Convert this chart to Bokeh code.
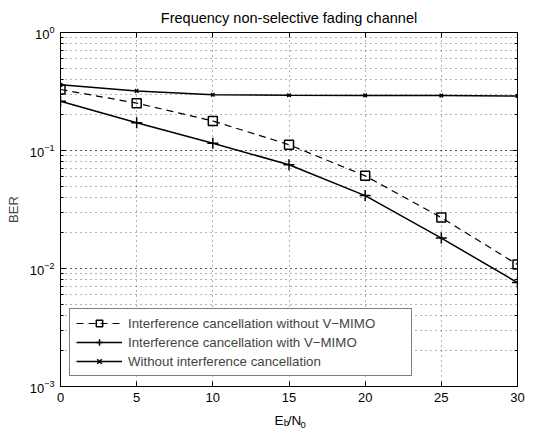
from bokeh.plotting import figure
from bokeh.layouts import column
from bokeh.models import (LogAxis, LinearAxis, Label, Legend, LegendItem, FixedTicker,
                          CustomJSTickFormatter, Range1d, LogTicker)
from bokeh.embed import file_html
from bokeh.resources import INLINE

# ---- data ----
snr = [0, 5, 10, 15, 20, 25, 30]
x_ticks = [0, 5, 10, 15, 20, 25, 30]
ber_ic_without_vmimo = [0.329, 0.252, 0.178, 0.112, 0.061, 0.027, 0.0108]
ber_ic_with_vmimo = [0.261, 0.172, 0.115, 0.0758, 0.0415, 0.0181, 0.0076]
ber_without_ic = [0.36, 0.32, 0.297, 0.294, 0.293, 0.292, 0.29]
labels = ["Interference cancellation without V\u2212MIMO",
          "Interference cancellation with V\u2212MIMO",
          "Without interference cancellation"]
title_text = "Frequency non-selective fading channel"
x_label_parts = ["E", "b", "/N", "0"]

FONT = "Liberation Sans"
MAIN_H = 407
TOTAL_H = 428
FRAME_L, FRAME_R = 60, 517

p = figure(width=540, height=MAIN_H, x_range=Range1d(0, 30), y_range=Range1d(1e-3, 1),
           y_axis_type="log", output_backend="svg", toolbar_location=None,
           min_border_left=FRAME_L, min_border_right=540 - FRAME_R, min_border_top=30,
           min_border_bottom=MAIN_H - 386)

p.title.text = title_text
p.title.align = "center"
p.title.offset = 10
p.title.text_font = FONT
p.title.text_font_size = "14.5px"
p.title.text_font_style = "normal"
p.title.text_color = "black"
p.title.standoff = 14

p.background_fill_color = "white"
p.border_fill_color = "white"
p.outline_line_color = "black"
p.outline_line_width = 1

# axes
p.xaxis.ticker = FixedTicker(ticks=x_ticks)
for ax in [p.xaxis[0], p.yaxis[0]]:
    ax.axis_line_color = "black"
    ax.major_tick_in = 5
    ax.major_tick_out = 0
    ax.minor_tick_in = 3
    ax.minor_tick_out = 0
    ax.major_tick_line_color = "black"
    ax.minor_tick_line_color = "black"
    ax.major_label_text_font = FONT
    ax.major_label_text_font_size = "13px"
    ax.major_label_text_color = "black"
p.xaxis.minor_tick_line_color = None
p.xaxis.major_label_standoff = 6
p.yaxis.major_label_standoff = 6
p.yaxis.axis_label = "BER"
p.yaxis.axis_label_text_font = FONT
p.yaxis.axis_label_text_font_size = "13px"
p.yaxis.axis_label_text_font_style = "normal"
p.yaxis.axis_label_standoff = 6

empty = CustomJSTickFormatter(code="return ''")
right = LogAxis(ticker=LogTicker(), formatter=empty, major_tick_in=5, major_tick_out=0,
                minor_tick_in=3, minor_tick_out=0, major_label_standoff=0)
top = LinearAxis(ticker=FixedTicker(ticks=x_ticks), formatter=empty, major_tick_in=5,
                 major_tick_out=0, minor_tick_line_color=None, major_label_standoff=0)
p.add_layout(right, "right")
p.add_layout(top, "above")

# grid
for g in [p.xgrid[0], p.ygrid[0]]:
    g.grid_line_color = "black"
    g.grid_line_dash = "1 4"
    g.grid_line_alpha = 0.6
p.xgrid.ticker = FixedTicker(ticks=x_ticks)
p.ygrid.minor_grid_line_color = "black"
p.ygrid.minor_grid_line_dash = "1 4"
p.ygrid.minor_grid_line_alpha = 0.6

# series
r1 = p.line(snr, ber_ic_without_vmimo, line_color="black", line_width=1.2, line_dash="7 5")
s1 = p.scatter(snr, ber_ic_without_vmimo, marker="square", size=9, fill_color=None,
               line_color="black", line_width=1.5)
r2 = p.line(snr, ber_ic_with_vmimo, line_color="black", line_width=1.5)
s2 = p.scatter(snr, ber_ic_with_vmimo, marker="cross", size=11, line_color="black", line_width=1.5)
r3 = p.line(snr, ber_without_ic, line_color="black", line_width=1.5)
s3 = p.scatter(snr, ber_without_ic, marker="x", size=5, line_color="black", line_width=1.5)

legend = Legend(items=[LegendItem(label=labels[0] + "\u00a0" * 8, renderers=[r1, s1]),
                       LegendItem(label=labels[1], renderers=[r2, s2]),
                       LegendItem(label=labels[2], renderers=[r3, s3])],
                location=(9, 10), border_line_color="black", border_line_width=1,
                background_fill_color="white", background_fill_alpha=1,
                label_text_font=FONT, label_text_font_size="13.3px",
                glyph_width=46, glyph_height=16, label_height=16, spacing=3,
                padding=6, margin=0, label_standoff=6)
p.add_layout(legend, "center")

# strip below the chart carrying the x-axis label E_b/N_0 (with subscripts);
# its frame is aligned with the chart's frame, so its x range spans the frame's pixels
lab_h = TOTAL_H - MAIN_H
q = figure(width=540, height=lab_h, x_range=Range1d(FRAME_L, FRAME_R), y_range=Range1d(0, lab_h),
           output_backend="svg", toolbar_location=None, min_border=0,
           min_border_left=FRAME_L, min_border_right=540 - FRAME_R,
           min_border_top=0, min_border_bottom=0)
q.axis.visible = False
q.grid.visible = False
q.outline_line_color = None
q.background_fill_color = "white"
q.border_fill_color = "white"
xl = dict(text_baseline="alphabetic", text_color="black", text_font=FONT)
q.add_layout(Label(x=274, y=TOTAL_H - 419.5, text=x_label_parts[0], text_font_size="13.5px", **xl))
q.add_layout(Label(x=283.3, y=TOTAL_H - 421.5, text=x_label_parts[1], text_font_size="9.5px", **xl))
q.add_layout(Label(x=287.3, y=TOTAL_H - 419.5, text=x_label_parts[2], text_font_size="13.5px", **xl))
q.add_layout(Label(x=300, y=TOTAL_H - 424, text=x_label_parts[3], text_font_size="9.5px", **xl))

layout = column(p, q, spacing=0)
open("out.html", "w").write(file_html(layout, INLINE))
